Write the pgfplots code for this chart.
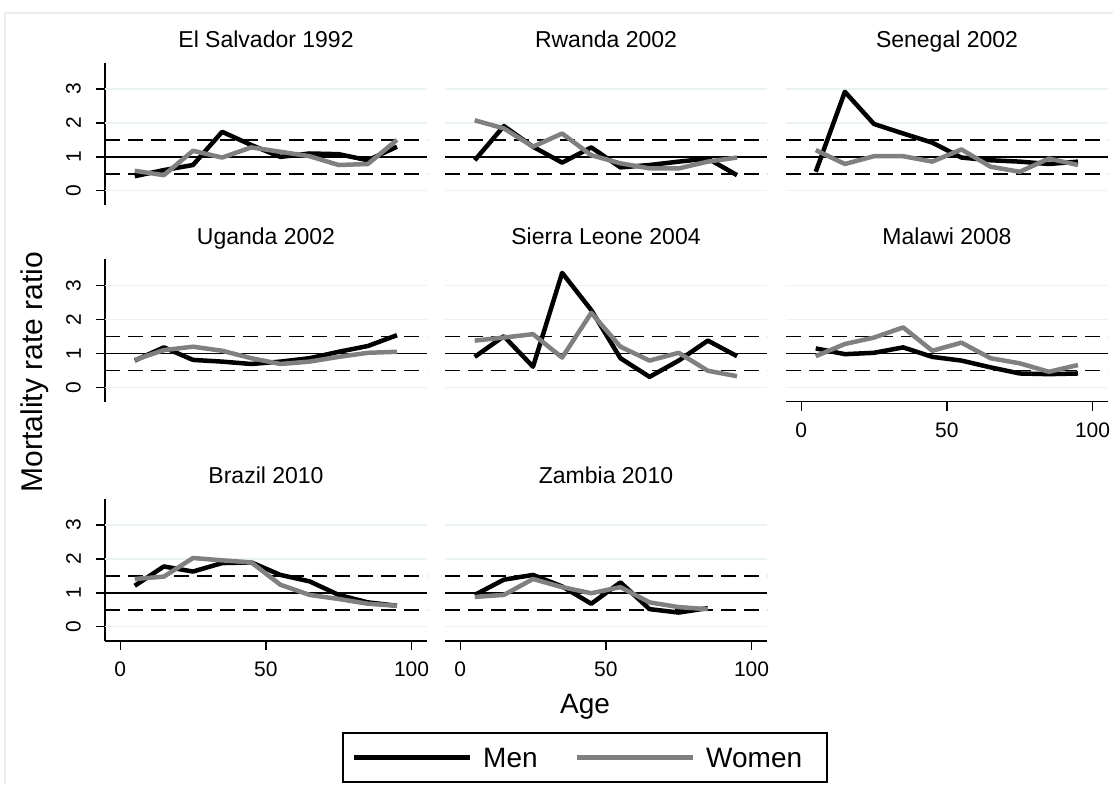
\documentclass[border=0pt]{standalone}
\usepackage{pgfplots}
\pgfplotsset{compat=1.18}
\usepackage{pgfplotstable}
\usepackage{fontspec}
\setmainfont{Liberation Sans}
\definecolor{gridc}{RGB}{234,242,243}
\definecolor{wgray}{RGB}{128,128,128}
\definecolor{framec}{RGB}{232,238,240}

\pgfplotstableread{
age m w
5 0.43 0.59
15 0.61 0.46
25 0.76 1.18
35 1.74 0.98
45 1.35 1.28
55 1.00 1.15
65 1.10 1.02
75 1.08 0.76
85 0.90 0.79
95 1.30 1.50
}\elsal
\pgfplotstableread{
age m w
5 0.90 2.08
15 1.91 1.84
25 1.30 1.30
35 0.83 1.69
45 1.28 1.05
55 0.69 0.81
65 0.76 0.66
75 0.86 0.66
85 0.95 0.86
95 0.46 0.98
}\rwanda
\pgfplotstableread{
age m w
5 0.56 1.20
15 2.92 0.79
25 1.97 1.02
35 1.69 1.02
45 1.42 0.86
55 0.98 1.22
65 0.90 0.71
75 0.86 0.56
85 0.79 0.95
95 0.86 0.76
}\senegal
\pgfplotstableread{
age m w
5 0.79 0.81
15 1.18 1.10
25 0.81 1.20
35 0.76 1.08
45 0.69 0.86
55 0.76 0.69
65 0.86 0.76
75 1.05 0.90
85 1.22 1.02
95 1.54 1.05
}\uganda
\pgfplotstableread{
age m w
5 0.90 1.38
15 1.51 1.47
25 0.61 1.57
35 3.38 0.88
45 2.28 2.20
55 0.86 1.20
65 0.31 0.79
75 0.79 1.02
85 1.38 0.49
95 0.92 0.33
}\sierra
\pgfplotstableread{
age m w
5 1.15 0.92
15 0.98 1.28
25 1.02 1.47
35 1.18 1.77
45 0.90 1.08
55 0.79 1.32
65 0.59 0.86
75 0.41 0.71
85 0.39 0.46
95 0.41 0.66
}\malawi
\pgfplotstableread{
age m w
5 1.21 1.41
15 1.78 1.48
25 1.63 2.03
35 1.88 1.96
45 1.90 1.90
55 1.53 1.24
65 1.34 0.94
75 0.94 0.82
85 0.72 0.68
95 0.62 0.62
}\brazil
\pgfplotstableread{
age m w
5 0.94 0.88
15 1.39 0.94
25 1.53 1.41
35 1.19 1.17
45 0.68 0.99
55 1.31 1.17
65 0.52 0.72
75 0.42 0.58
85 0.55 0.52
}\zambia

\pgfplotsset{
  panel/.style={
    scale only axis, width=322pt, height=142.3pt,
    xmin=-5.2, xmax=105.3, ymin=-0.42, ymax=3.78,
    axis line style={-, black, line width=1.3pt},
    title style={font=\fontsize{23}{27}\selectfont, anchor=base, at={(0.5,1)}, yshift=9pt, inner sep=0pt},
    tick label style={font=\fontsize{21}{25}\selectfont},
    /pgf/number format/assume math mode=true,
    tick align=outside, major tick length=9pt,
    every tick/.style={black, line width=1.3pt},
    clip=false,
  },
  yon/.style={axis y line*=left, ytick={0,1,2,3},
    yticklabel={\rotatebox{90}{\pgfmathprintnumber{\tick}}},
    yticklabel style={anchor=east, inner xsep=15pt, inner ysep=0pt}},
  yoff/.style={axis y line=none, ytick=\empty},
  xon/.style={axis x line*=bottom, xtick={0,50,100},
    xticklabel style={anchor=north, inner sep=0pt},
    xticklabel shift=12pt},
  xoff/.style={axis x line=none, xtick=\empty},
}
\newcommand{\refs}{%
  \addplot[gridc, line width=1.3pt, forget plot] coordinates {(-5.2,0) (105.3,0)};
  \addplot[gridc, line width=1.3pt, forget plot] coordinates {(-5.2,2) (105.3,2)};
  \addplot[gridc, line width=1.3pt, forget plot] coordinates {(-5.2,3) (105.3,3)};
  \addplot[black, line width=1.6pt, dash pattern=on 15pt off 8pt, forget plot] coordinates {(-5.2,0.5) (105.3,0.5)};
  \addplot[black, line width=1.6pt, dash pattern=on 15pt off 8pt, forget plot] coordinates {(-5.2,1.5) (105.3,1.5)};
  \addplot[black, line width=1.6pt, forget plot] coordinates {(-5.2,1) (105.3,1)};
}
\newcommand{\series}[1]{%
  \addplot[black, line width=4.5pt, line join=round] table[x=age,y=m]{#1};
  \addplot[wgray, line width=4.5pt, line join=round] table[x=age,y=w]{#1};
}

\begin{document}
\begin{tikzpicture}
\path[use as bounding box] (0pt,0pt) rectangle (1113pt,784pt);
\draw[framec, line width=1.2pt] (5pt,0pt) -- (5pt,771pt) -- (1113pt,771pt);

% row 1
\begin{axis}[panel, yon, xoff, at={(105pt,579pt)}, anchor=south west, title={El Salvador 1992}]
\refs \series{\elsal}
\end{axis}
\begin{axis}[panel, yoff, xoff, at={(445pt,579pt)}, anchor=south west, title={Rwanda 2002}]
\refs \series{\rwanda}
\end{axis}
\begin{axis}[panel, yoff, xoff, at={(786pt,579pt)}, anchor=south west, title={Senegal 2002}]
\refs \series{\senegal}
\end{axis}
% row 2
\begin{axis}[panel, yon, xoff, at={(105pt,382.4pt)}, anchor=south west, title={Uganda 2002}]
\refs \series{\uganda}
\end{axis}
\begin{axis}[panel, yoff, xoff, at={(445pt,382.4pt)}, anchor=south west, title={Sierra Leone 2004}]
\refs \series{\sierra}
\end{axis}
\begin{axis}[panel, yoff, xon, at={(786pt,382.4pt)}, anchor=south west, title={Malawi 2008}]
\refs \series{\malawi}
\end{axis}
% row 3
\begin{axis}[panel, yon, xon, at={(105pt,143pt)}, anchor=south west, title={Brazil 2010}]
\refs \series{\brazil}
\end{axis}
\begin{axis}[panel, yoff, xon, at={(445pt,143pt)}, anchor=south west, title={Zambia 2010}]
\refs \series{\zambia}
\end{axis}

% axis titles
\node[rotate=90, font=\fontsize{30}{34}\selectfont] at (35pt,412pt) {Mortality rate ratio};
\node[font=\fontsize{28}{32}\selectfont] at (585pt,77pt) {Age};

% legend
\draw[black, line width=1.3pt] (343pt,2pt) rectangle (827pt,51pt);
\draw[black, line width=5pt] (354pt,26pt) -- (470pt,26pt);
\node[anchor=west, font=\fontsize{28}{32}\selectfont, inner sep=0pt] at (483pt,26pt) {Men};
\draw[wgray, line width=5pt] (577pt,26pt) -- (693pt,26pt);
\node[anchor=west, font=\fontsize{28}{32}\selectfont, inner sep=0pt] at (706pt,26pt) {Women};
\end{tikzpicture}
\end{document}
